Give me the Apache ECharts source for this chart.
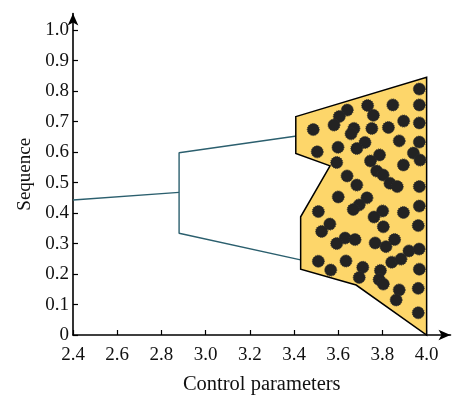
<!DOCTYPE html>
<html>
<head>
<meta charset="utf-8">
<script src="https://cdn.jsdelivr.net/npm/echarts@6/dist/echarts.min.js"></script>
<style>html,body{margin:0;padding:0;background:#fff}#c{width:456px;height:395px}</style>
</head>
<body>
<div id="c"></div>
<script>
// ---- data ----
var xTicks = [2.4, 2.6, 2.8, 3.0, 3.2, 3.4, 3.6, 3.8, 4.0];
var yTicks = [0, 0.1, 0.2, 0.3, 0.4, 0.5, 0.6, 0.7, 0.8, 0.9, 1.0];
// single period branch
var stemX = [2.4, 2.88];
var stemY = [0.443, 0.468];
// period-doubling branches (upper end -> fork -> lower end)
var forkX = [3.42, 2.88, 2.88, 3.44];
var forkY = [0.654, 0.598, 0.334, 0.245];
// chaotic region outline
var polyX = [3.408, 4.0, 4.0, 3.681, 3.430, 3.430, 3.563, 3.408];
var polyY = [0.7165, 0.846, 0.0, 0.164, 0.216, 0.388, 0.555, 0.596];
// dots inside chaotic region
var dotX = [3.967,3.967,3.967,3.967,3.940,3.970,3.847,3.896,3.827,3.876,
            3.733,3.759,3.641,3.605,3.581,3.671,3.658,3.752,3.487,3.721,
            3.684,3.599,3.505,3.787,3.746,3.593,3.895,3.774,3.803,3.640,
            3.684,3.834,3.867,3.967,3.600,3.730,3.695,3.668,3.967,3.510,
            3.801,3.762,3.895,3.804,3.962,3.562,3.525,3.631,3.676,3.593,
            3.767,3.855,3.816,3.920,3.966,3.510,3.566,3.635,3.711,3.695,
            3.791,3.785,3.804,3.842,3.884,3.967,3.962,3.876,3.862,3.962];
var dotY = [0.807,0.755,0.696,0.633,0.597,0.574,0.755,0.702,0.681,0.637,
            0.753,0.721,0.738,0.717,0.689,0.678,0.660,0.678,0.674,0.632,
            0.612,0.616,0.601,0.591,0.571,0.566,0.558,0.538,0.525,0.522,
            0.492,0.498,0.487,0.487,0.453,0.450,0.427,0.412,0.423,0.405,
            0.407,0.387,0.402,0.355,0.359,0.364,0.340,0.318,0.313,0.300,
            0.302,0.313,0.290,0.276,0.282,0.242,0.213,0.243,0.222,0.189,
            0.212,0.182,0.167,0.239,0.249,0.216,0.153,0.148,0.115,0.073];

function zip(a, b) { return a.map(function (v, i) { return [v, b[i]]; }); }

var FONT = 'Liberation Serif';
var chart = echarts.init(document.getElementById('c'), null, {renderer: 'canvas'});
chart.setOption({
  animation: false,
  backgroundColor: '#fff',
  grid: {left: 73, right: 5.5, top: 13.5, bottom: 60, containLabel: false, outerBoundsMode: 'none'},
  xAxis: {
    type: 'value', min: 2.4, max: 4.108,
    splitLine: {show: false},
    axisLine: {lineStyle: {color: '#000', width: 1.6}, symbol: ['none', 'arrow'], symbolSize: [8, 12]},
    axisTick: {inside: true, length: 5, lineStyle: {color: '#000', width: 1.2}, customValues: xTicks},
    axisLabel: {customValues: xTicks, color: '#111', fontFamily: FONT, fontSize: 19, margin: 11,
      formatter: function (v) { return v.toFixed(1); }},
    name: 'Control parameters', nameLocation: 'middle', nameGap: 39,
    nameTextStyle: {color: '#111', fontFamily: FONT, fontSize: 20.5}
  },
  yAxis: {
    type: 'value', min: 0, max: 1.055,
    splitLine: {show: false},
    axisLine: {lineStyle: {color: '#000', width: 1.6}, symbol: ['none', 'arrow'], symbolSize: [8, 12]},
    axisTick: {inside: true, length: 5, lineStyle: {color: '#000', width: 1.2}, customValues: yTicks},
    axisLabel: {customValues: yTicks, color: '#111', fontFamily: FONT, fontSize: 19, margin: 4,
      formatter: function (v) { return v === 0 ? '0' : v.toFixed(1); }},
    name: 'Sequence', nameLocation: 'middle', nameGap: 38,
    nameTextStyle: {color: '#111', fontFamily: FONT, fontSize: 19}
  },
  series: [
    {type: 'line', data: zip(stemX, stemY), symbol: 'none', z: 2,
     lineStyle: {color: '#2b5f6e', width: 1.4}},
    {type: 'line', data: zip(forkX, forkY), symbol: 'none', z: 2,
     lineStyle: {color: '#2b5f6e', width: 1.4}},
    {type: 'custom', z: 3, data: [0],
     renderItem: function (params, api) {
       var pts = polyX.map(function (x, i) { return api.coord([x, polyY[i]]); });
       return {type: 'polygon', shape: {points: pts},
               style: {fill: '#fdd66a', stroke: '#000', lineWidth: 1.5}};
     }},
    {type: 'scatter', z: 4, data: zip(dotX, dotY), symbolSize: 12,
     itemStyle: {color: '#232323', borderColor: '#2e2e2e', borderWidth: 1, borderType: 'dotted', opacity: 1}}
  ]
});
</script>
</body>
</html>
